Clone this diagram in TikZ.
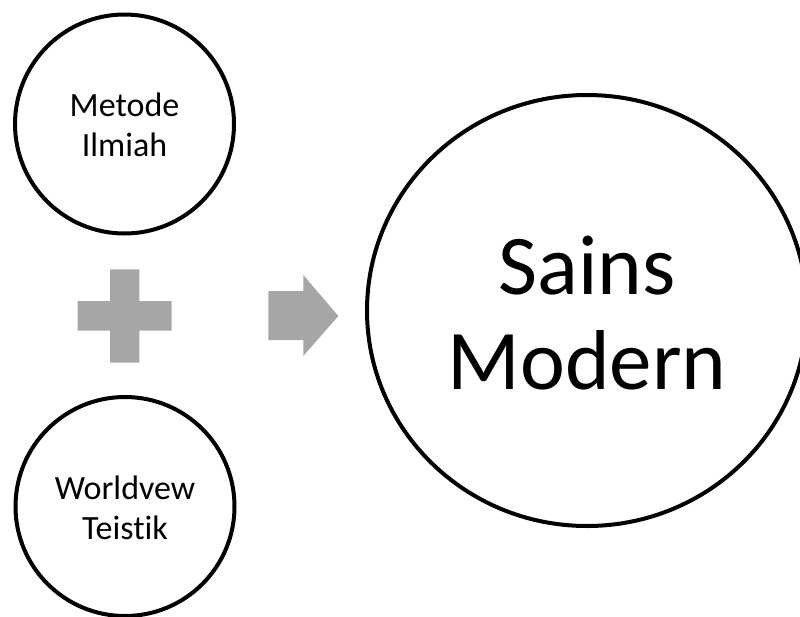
\documentclass[tikz,border=0pt]{standalone}
\usepackage{fontspec}
\setmainfont[Ligatures=NoCommon]{Carlito}
\usetikzlibrary{shapes.geometric}
\definecolor{shapegray}{HTML}{A6A6A6}
\tikzset{
  ring/.style={draw=black, line width=4pt, circle, inner sep=0pt, minimum size=219pt},
  bigring/.style={draw=black, line width=4pt, ellipse, inner sep=0pt,
    minimum width=440pt, minimum height=431pt},
  smalltxt/.style={align=center, inner sep=0pt, font=\fontsize{34}{40}\selectfont},
  bigtxt/.style={align=center, inner sep=0pt, font=\fontsize{85}{95}\selectfont},
  solidshape/.style={fill=shapegray, draw=none}
}
\begin{document}
\begin{tikzpicture}[x=1pt, y=-1pt]
  \useasboundingbox (0,0) rectangle (800,616);

  % input circles
  \node[ring] (metode) at (124.5,124) {};
  \node[ring] (worldview) at (125,506.5) {};
  \node[smalltxt, yshift=-1.2pt] (metodetxt) at (metode.center) {Metode\\Ilmiah};
  \node[smalltxt, yshift=-1.2pt] (worldviewtxt) at (worldview.center) {Worldvew\\Teistik};

  % result circle
  \node[bigring] (sains) at (587,310.5) {};
  \node[bigtxt, yshift=-3pt] (sainstxt) at (sains.center) {Sains\\Modern};

  % plus sign
  \fill[solidshape] (110,269.3) -- (139.3,269.3) -- (139.3,301) -- (171.7,301)
    -- (171.7,330.7) -- (139.3,330.7) -- (139.3,362.7) -- (110,362.7)
    -- (110,330.7) -- (77.7,330.7) -- (77.7,301) -- (110,301) -- cycle;

  % block arrow
  \fill[solidshape] (268.3,291) -- (303.3,291) -- (303.3,275) -- (338.3,316)
    -- (303.3,356) -- (303.3,340) -- (268.3,340) -- cycle;
\end{tikzpicture}
\end{document}
